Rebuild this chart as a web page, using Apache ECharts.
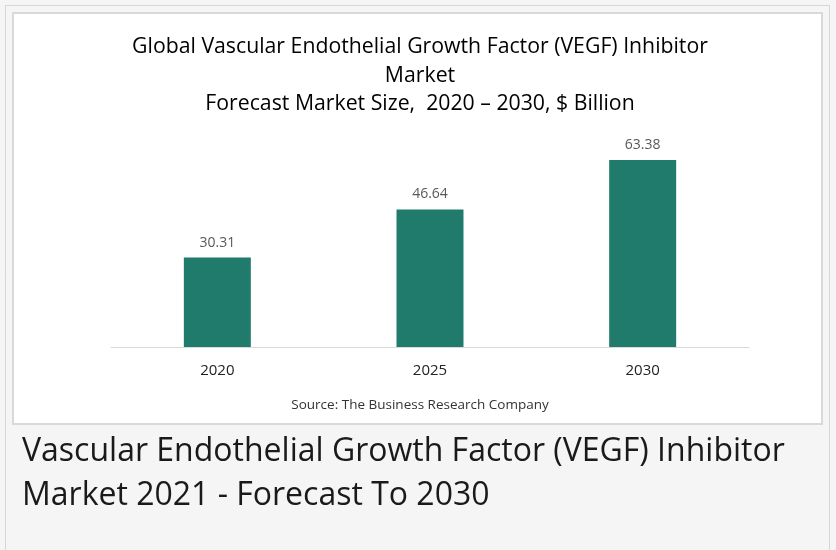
<!DOCTYPE html>
<html><head><meta charset="utf-8">
<script src="https://cdn.jsdelivr.net/npm/echarts@6/dist/echarts.min.js"></script>
<style>html,body{margin:0;padding:0;background:#f5f5f5;}#c{width:836px;height:550px;}</style>
</head><body><div id="c"></div>
<script>
const categories = ['2020', '2025', '2030'];
const values = [30.31, 46.64, 63.38];
const titleLines = ['Global Vascular Endothelial Growth Factor (VEGF) Inhibitor', 'Market', 'Forecast Market Size,  2020 – 2030, $ Billion'];
const sourceText = 'Source: The Business Research Company';
const captionLines = ['Vascular Endothelial Growth Factor (VEGF) Inhibitor', 'Market 2021 - Forecast To 2030'];

const chart = echarts.init(document.getElementById('c'), null, {renderer: 'canvas'});
const font = '"Open Sans", sans-serif';
chart.setOption({
  backgroundColor: '#f5f5f5',
  animation: false,
  graphic: [
    {type: 'rect', shape: {x: 5.5, y: 5.5, width: 824, height: 560}, style: {fill: '#f5f5f5', stroke: '#d6d6d6', lineWidth: 1}, z: -10},
    {type: 'rect', shape: {x: 13, y: 13, width: 809, height: 411}, style: {fill: '#ffffff', stroke: '#d9d9d9', lineWidth: 2}, z: -9},
    {type: 'text', x: 420, y: 405, style: {text: sourceText, font: '13.5px ' + font, fill: '#333', textAlign: 'center', textVerticalAlign: 'middle'}},
    {type: 'text', x: 22, y: 452, style: {text: captionLines[0], font: '32px ' + font, fill: '#1a1a1a', textAlign: 'left', textVerticalAlign: 'middle'}},
    {type: 'text', x: 22, y: 496, style: {text: captionLines[1], font: '32px ' + font, fill: '#1a1a1a', textAlign: 'left', textVerticalAlign: 'middle'}}
  ],
  title: {
    text: titleLines.join('\n'),
    left: 415, top: 28, textAlign: 'center',
    textStyle: {fontFamily: font, fontSize: 21.25, fontWeight: 'normal', color: '#000', lineHeight: 28.5}
  },
  grid: {left: 111, right: 836 - 749, top: 140.5, bottom: 550 - 347},
  xAxis: {
    type: 'category', data: categories,
    axisLine: {lineStyle: {color: '#d9d9d9', width: 1}},
    axisTick: {show: false},
    axisLabel: {color: '#222', fontSize: 15, fontFamily: font, margin: 16}
  },
  yAxis: {type: 'value', min: 0, max: 70, show: false, splitLine: {show: false}},
  series: [{
    type: 'bar', data: values, barWidth: '31.5%',
    itemStyle: {color: '#217b6c'},
    label: {show: true, position: 'top', distance: 8, color: '#595959', fontSize: 14, fontFamily: font, formatter: p => p.value.toFixed(2)}
  }]
});
</script></body></html>
